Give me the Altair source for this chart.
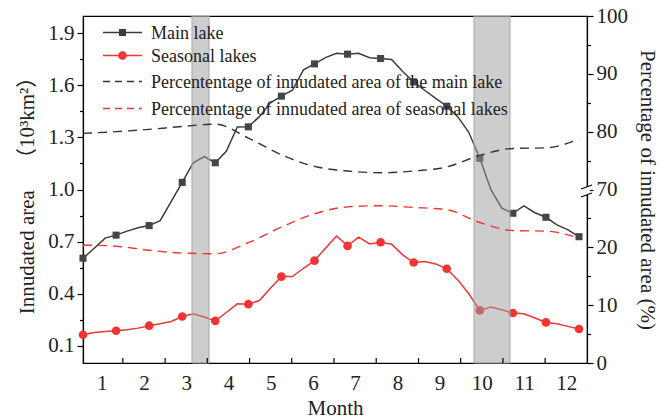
import altair as alt
import pandas as pd

# ---- data -------------------------------------------------------------
# 8-day composites (46 per year), day of year of each composite
days = [1 + 8 * i for i in range(46)]

main_lake = [0.604, 0.66, 0.72, 0.737, 0.76, 0.78, 0.792, 0.82, 0.93, 1.041,
             1.154, 1.189, 1.154, 1.22, 1.36, 1.361, 1.42, 1.50, 1.538, 1.572,
             1.69, 1.724, 1.76, 1.785, 1.780, 1.785, 1.76, 1.755, 1.749, 1.68,
             1.62, 1.572, 1.525, 1.480, 1.42, 1.33, 1.180, 1.00, 0.892, 0.863,
             0.905, 0.866, 0.840, 0.796, 0.767, 0.728]

seasonal_lakes = [0.163, 0.176, 0.182, 0.186, 0.192, 0.201, 0.215, 0.226, 0.239, 0.268,
                  0.284, 0.265, 0.243, 0.291, 0.341, 0.339, 0.360, 0.431, 0.498, 0.498,
                  0.546, 0.590, 0.662, 0.732, 0.675, 0.725, 0.686, 0.696, 0.685, 0.623,
                  0.579, 0.585, 0.571, 0.543, 0.479, 0.399, 0.303, 0.322, 0.307, 0.288,
                  0.284, 0.259, 0.234, 0.226, 0.211, 0.196]

# percentage of inundated area (%), every third composite
pct_days = days[::3]
pct_main = [79.7, 80.0, 80.4, 80.9, 81.3, 78.9, 76.0, 74.0, 73.2, 72.9,
            73.2, 73.9, 75.9, 77.1, 77.2, 78.7]
pct_seasonal = [20.4, 20.2, 19.5, 19.0, 18.9, 20.8, 23.5, 25.8, 27.0, 27.2,
                26.9, 26.5, 24.3, 22.9, 22.8, 21.6]

# shaded periods (day of year)
band_start = [80.1, 284.8]
band_end = [92.5, 310.9]

# month labels (centre of each month) and month boundaries (day of year)
month_labels = [str(m) for m in range(1, 13)]
month_centres = [14.6, 45.3, 75.9, 106.6, 137.2, 167.9, 198.5, 229.2, 259.8, 290.5, 321.1, 351.8]
month_bounds = [29.9, 60.6, 91.2, 121.9, 152.5, 183.2, 213.8, 244.5, 275.1, 305.8, 336.4]

left_ticks = [0.1, 0.25, 0.4, 0.55, 0.7, 0.85, 1.0, 1.15, 1.3, 1.45, 1.6, 1.75, 1.9]
right_ticks = [0, 5, 10, 15, 20, 25, 30, 35, 40, 45, 50, 55, 60]  # broken axis: 30 -> 70

# ---- tables -----------------------------------------------------------
area = pd.DataFrame({"day": days, "main": main_lake, "seasonal": seasonal_lakes})
area["marker"] = [i % 3 == 0 for i in range(len(days))]
pct = pd.DataFrame({"day": pct_days, "pm": pct_main, "ps": pct_seasonal})
# broken right axis: 0-20 kept, 70-100 shifted down by 40
pct["pm_t"] = pct["pm"] - 40
pct["ps_t"] = pct["ps"]
bands = pd.DataFrame({"s": band_start, "e": band_end})
bounds = pd.DataFrame({"day": month_bounds})

W, H = 504, 347
FONT = "Liberation Serif"
TFONT = "Liberation Serif, Noto Sans CJK SC"
DARK = "#3c3c3c"
RED = "#f23434"
TXT = "#222222"

xscale = alt.Scale(domain=[1, 366.8], nice=False, zero=False)
xaxis = alt.Axis(values=month_centres, labelExpr="round((datum.value - 14.6) / 30.65) + 1",
                 ticks=False, labelPadding=9, title="Month", titlePadding=4,
                 grid=False, labelAngle=0,
                 labelFont=FONT, labelFontSize=21, labelColor=TXT,
                 titleFont=FONT, titleFontSize=21, titleFontWeight="normal", titleColor=TXT,
                 domainColor="black", domainWidth=1.2)
X = alt.X("day:Q", scale=xscale, axis=xaxis)

yl_scale = alt.Scale(domain=[0, 2.0], nice=False, zero=False)
major_l = "abs((datum.value - 0.1) / 0.3 - round((datum.value - 0.1) / 0.3)) < 0.01"
yl_axis = alt.Axis(values=left_ticks, grid=False,
                   labelExpr=major_l + " ? format(datum.value, '.1f') : ''",
                   tickSize={"condition": {"test": major_l, "value": 6}, "value": 3.5},
                   title="Innudated area\u2003（10³km²）", titlePadding=10, labelPadding=3,
                   titleY=174,
                   labelFont=FONT, labelFontSize=21, labelColor=TXT,
                   titleFont=TFONT, titleFontSize=21, titleFontWeight="normal", titleColor=TXT,
                   domainColor="black", domainWidth=1.2, tickColor="black", tickWidth=1.2)

yr_scale = alt.Scale(domain=[0, 60], nice=False, zero=False)
yr_axis = alt.Axis(values=right_ticks, orient="right", grid=False,
                   labelExpr="datum.value % 10 == 0 ? (datum.value > 25 ? datum.value + 40 : datum.value) : ''",
                   tickSize={"condition": {"test": "datum.value % 10 == 0", "value": 6}, "value": 3.5},
                   title="Percentage of innudated area (%)", titlePadding=9, labelPadding=3,
                   labelFont=FONT, labelFontSize=21, labelColor=TXT,
                   titleFont=FONT, titleFontSize=21, titleFontWeight="normal", titleColor=TXT,
                   domainColor="black", domainWidth=1.2, tickColor="black", tickWidth=1.2)

base = alt.Chart(area)
main_line = base.mark_line(color=DARK, strokeWidth=1.5).encode(
    x=X, y=alt.Y("main:Q", scale=yl_scale, axis=yl_axis))
main_pts = base.transform_filter("datum.marker").mark_point(
    shape="square", filled=True, color="#454545", size=50, opacity=1).encode(
    x=X, y=alt.Y("main:Q", scale=yl_scale, axis=yl_axis))
sea_line = base.mark_line(color=RED, strokeWidth=1.5).encode(
    x=X, y=alt.Y("seasonal:Q", scale=yl_scale, axis=yl_axis))
sea_pts = base.transform_filter("datum.marker").mark_point(
    shape="circle", filled=True, color=RED, size=75, opacity=1).encode(
    x=X, y=alt.Y("seasonal:Q", scale=yl_scale, axis=yl_axis))
left = alt.layer(main_line, sea_line, main_pts, sea_pts)

band_layer = alt.Chart(bands).mark_rect(
    fill="#9c9c9c", fillOpacity=0.5, stroke="#a8a8a8", strokeWidth=1).encode(
    x=alt.X("s:Q", scale=xscale, axis=xaxis), x2="e:Q")

pbase = alt.Chart(pct)
pm_line = pbase.mark_line(color="#333333", strokeWidth=1.4, strokeDash=[9, 6],
                          interpolate="monotone").encode(
    x=X, y=alt.Y("pm_t:Q", scale=yr_scale, axis=yr_axis))
ps_line = pbase.mark_line(color=RED, strokeWidth=1.4, strokeDash=[9, 6],
                          interpolate="monotone").encode(
    x=X, y=alt.Y("ps_t:Q", scale=yr_scale, axis=yr_axis))
right = alt.layer(pm_line, ps_line)

# inward tick marks at month boundaries on the bottom axis
bound_ticks = alt.Chart(bounds).mark_rule(color="black", strokeWidth=1.2).encode(
    x=alt.X("day:Q", scale=xscale, axis=xaxis), y=alt.value(H), y2=alt.value(H - 5))

# axis break marks on the right axis
one = pd.DataFrame({"k": [0]})
brk_mask = alt.Chart(one).mark_rect(color="white").encode(
    x=alt.value(W - 3), x2=alt.value(W + 3), y=alt.value(171), y2=alt.value(179))
brk1 = alt.Chart(one).mark_rule(color="black", strokeWidth=1.2).encode(
    x=alt.value(W - 6), x2=alt.value(W + 5), y=alt.value(173), y2=alt.value(169))
brk2 = alt.Chart(one).mark_rule(color="black", strokeWidth=1.2).encode(
    x=alt.value(W - 6), x2=alt.value(W + 5), y=alt.value(181), y2=alt.value(177))

# legend
legend_rows = [
    ("Main lake", DARK, None, "square", 16.5),
    ("Seasonal lakes", RED, None, "circle", 39.5),
    ("Percententage of innudated area of the main lake", "#333333", [7, 5], None, 65.5),
    ("Percententage of innudated area of seasonal lakes", RED, [7, 5], None, 92.5),
]
legend_layers = []
for label, col, dash, shp, yy in legend_rows:
    ld = pd.DataFrame({"label": [label]})
    rule_kw = dict(color=col, strokeWidth=1.5)
    if dash:
        rule_kw["strokeDash"] = dash
    legend_layers.append(alt.Chart(ld).mark_rule(**rule_kw).encode(
        x=alt.value(20), x2=alt.value(59), y=alt.value(yy)))
    if shp:
        legend_layers.append(alt.Chart(ld).mark_point(
            shape=shp, filled=True, color=col, opacity=1,
            size=50 if shp == "square" else 75).encode(
            x=alt.value(39.5), y=alt.value(yy)))
    legend_layers.append(alt.Chart(ld).mark_text(
        align="left", baseline="middle", font=FONT, fontSize=18, color=TXT).encode(
        x=alt.value(68), y=alt.value(yy + 1), text="label:N"))

chart = alt.layer(
    left, band_layer, right, bound_ticks, brk_mask, brk1, brk2, *legend_layers
).resolve_scale(y="independent").properties(
    width=W, height=H,
    autosize=alt.AutoSizeParams(type="none"),
    padding={"left": 83, "top": 16, "right": 85, "bottom": 57},
    background="white",
).configure_view(
    stroke="black", strokeWidth=1.2
)

chart.save("out.html", embed_options={"renderer": "svg", "actions": False})
